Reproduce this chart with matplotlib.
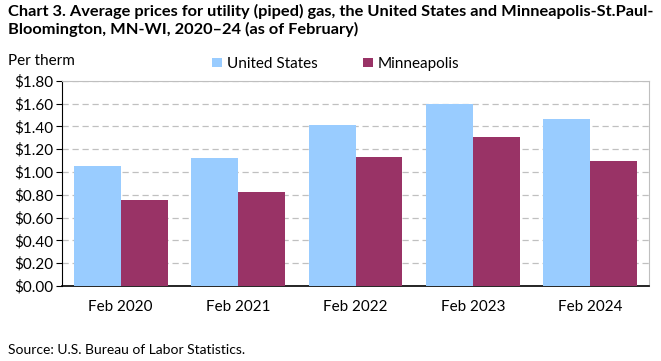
import numpy as np
import matplotlib
matplotlib.use("Agg")
import matplotlib.pyplot as plt

plt.rcParams["font.family"] = ["Lato", "DejaVu Sans"]

categories = ["Feb 2020", "Feb 2021", "Feb 2022", "Feb 2023", "Feb 2024"]
us_prices = [1.05, 1.12, 1.41, 1.60, 1.46]
mpls_prices = [0.75, 0.82, 1.13, 1.31, 1.10]
yticks = np.arange(0, 1.81, 0.2)

US_COLOR = "#99CCFF"
MPLS_COLOR = "#993366"

fig = plt.figure(figsize=(6.61, 3.61), dpi=100)
ax = fig.add_axes([62 / 661, 1 - 286 / 361, (649 - 62) / 661, (286 - 80.7) / 361])

x = np.arange(len(categories))
w = 0.4
ax.bar(x - w / 2, us_prices, w, color=US_COLOR, label="United States", zorder=3)
ax.bar(x + w / 2, mpls_prices, w, color=MPLS_COLOR, label="Minneapolis", zorder=3)

ax.set_xlim(-0.5, len(categories) - 0.5)
ax.set_ylim(0, 1.8)
ax.set_yticks(yticks)
ax.set_yticklabels([f"${v:.2f}" for v in yticks])
ax.set_xticks(x)
ax.set_xticklabels(categories)
ax.tick_params(axis="x", length=0, pad=10, labelsize=11)
ax.tick_params(axis="y", length=4, direction="out", pad=2, labelsize=11, color="black")
ax.yaxis.grid(True, linestyle=(0, (5, 3)), color="#c0c0c0", linewidth=0.9, zorder=0)

for side in ["top", "right"]:
    ax.spines[side].set_color("#bfbfbf")
for side in ["left", "bottom"]:
    ax.spines[side].set_color("black")
ax.spines["bottom"].set_linewidth(1.2)

fig.text(8 / 661, 1 - 4 / 361,
         "Chart 3. Average prices for utility (piped) gas, the United States and Minneapolis-St.Paul-\n"
         "Bloomington, MN-WI, 2020\u201324 (as of February)",
         ha="left", va="top", fontsize=11.8, fontweight="bold", linespacing=1.2)
fig.text(8 / 661, 1 - 61 / 361, "Per therm", ha="left", va="center", fontsize=11)
fig.text(8 / 661, 1 - 350 / 361, "Source: U.S. Bureau of Labor Statistics.",
         ha="left", va="center", fontsize=10)

fig.legend(loc="center", bbox_to_anchor=(336 / 661, 1 - 64 / 361), ncol=2, frameon=False,
           fontsize=11, handlelength=0.6, handleheight=0.6, columnspacing=3.0, handletextpad=0.35)

fig.savefig("out.png", dpi=100)
